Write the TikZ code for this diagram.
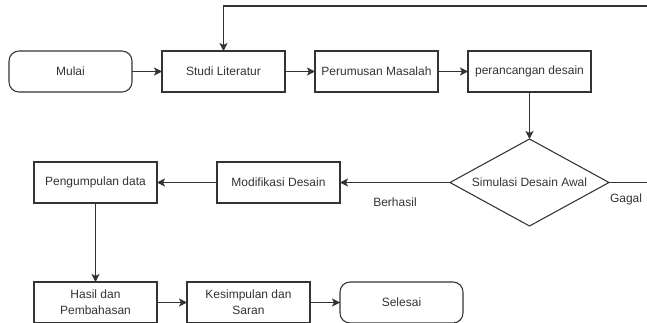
\documentclass[tikz,border=0pt]{standalone}
\usepackage{fontspec}
\setmainfont{Liberation Sans}
\usetikzlibrary{shapes.geometric,positioning,arrows.meta}
\definecolor{garis}{gray}{0.2}

\begin{document}
\begin{tikzpicture}[>={Stealth[length=6pt,width=6pt,inset=1.5pt]},node distance=22.5pt,
  line width=0.8pt,color=garis,font=\fontsize{9}{12}\selectfont,
  box/.style={draw,rectangle,minimum width=92.25pt,minimum height=30.75pt,
    inner sep=2pt,outer sep=0pt,align=center},
  term/.style={box,rounded corners=7.5pt},
  cek/.style={draw,diamond,aspect=1.83,minimum width=119.25pt,
    minimum height=65.25pt,inner sep=0pt,outer sep=0pt}]
  \useasboundingbox (-52.875pt,53.625pt) rectangle ++(485.25pt,-241.5pt);
  \node[term] (mulai) at (0,0) {Mulai};
  \node[box,right=of mulai] (studi) {Studi Literatur};
  \node[box,right=of studi] (rumus) {Perumusan Masalah};
  \node[box,right=of rumus] (rancang) {perancangan desain};
  \node[cek,below=35.25pt of rancang] (simulasi) {Simulasi Desain Awal};
  \node[box,left=82.5pt of simulasi] (modif) {Modifikasi Desain};
  \node[box,left=45pt of modif] (kumpul) {Pengumpulan data};
  \node[box,below=59.25pt of kumpul] (hasil) {Hasil dan\\Pembahasan};
  \node[box,right=of hasil] (simpul) {Kesimpulan dan\\Saran};
  \node[term,right=of simpul] (selesai) {Selesai};
  \path[->]
    (mulai) edge (studi)
    (studi) edge (rumus)
    (rumus) edge (rancang)
    (rancang) edge (simulasi)
    (simulasi) edge node[below=7.5pt] {Berhasil} (modif)
    (modif) edge (kumpul)
    (kumpul) edge (hasil)
    (hasil) edge (simpul)
    (simpul) edge (selesai);
  % jalur gagal kembali ke studi literatur
  \coordinate[above=33.75pt of studi.north] (balik);
  \draw[->] (simulasi.east) -- node[pos=0.32,below=5pt] {Gagal} ++(40pt,0)
    |- (balik) -- (studi.north);
\end{tikzpicture}
\end{document}
